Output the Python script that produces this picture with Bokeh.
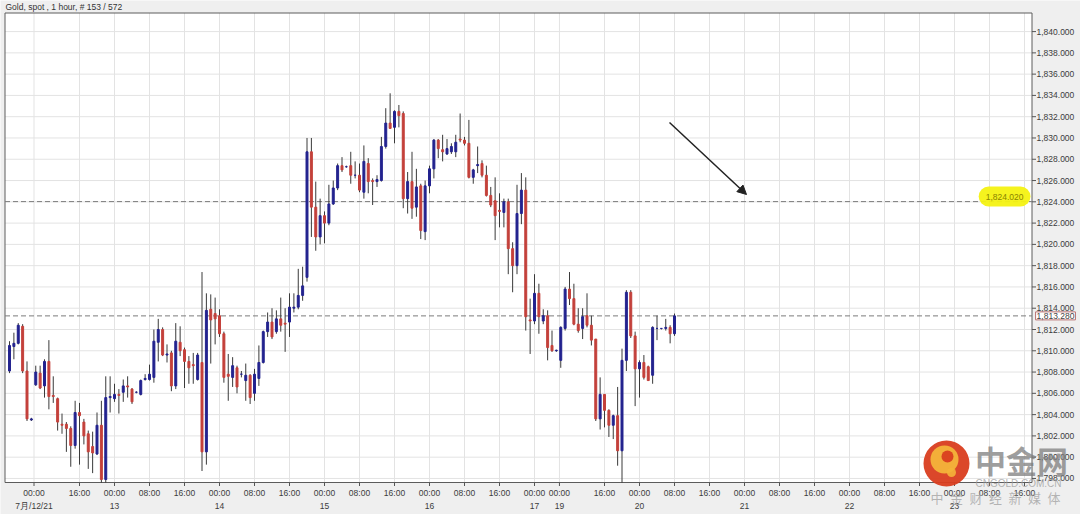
from bokeh.plotting import figure
from bokeh.models import ColumnDataSource, Label, Arrow, NormalHead, Range1d
from bokeh.embed import file_html
from bokeh.resources import INLINE
from bokeh.core.properties import value

# ---------------- data ----------------
OPEN = [1808.1, 1810.4, 1810.7, 1812.3, 1808.1, 1803.5, 1806.8, 1807.9, 1806.7, 1809.0,
        1805.8, 1805.5, 1803.1, 1803.1, 1802.7, 1801.1, 1804.2, 1803.3, 1802.2, 1801.0,
        1800.3, 1803.0, 1797.9, 1805.6, 1805.5, 1805.9, 1806.1, 1806.7, 1806.4, 1806.1,
        1805.9, 1807.3, 1807.3, 1807.5, 1810.8, 1812.0, 1809.6, 1809.8, 1806.7, 1810.8,
        1810.1, 1809.0, 1808.7, 1807.3, 1808.9, 1800.5, 1813.9, 1813.5, 1813.3, 1811.6,
        1807.8, 1807.5, 1808.4, 1807.8, 1807.2, 1807.7, 1806.0, 1807.4, 1808.9, 1811.8,
        1812.7, 1811.8, 1813.0, 1812.6, 1812.7, 1814.0, 1814.1, 1815.2, 1816.9, 1828.7,
        1823.5, 1820.7, 1822.7, 1822.0, 1823.8, 1825.3, 1827.4, 1827.3, 1827.4, 1826.5,
        1826.5, 1824.9, 1827.6, 1826.0, 1825.9, 1826.0, 1829.2, 1831.4, 1831.0, 1832.5,
        1832.3, 1824.3, 1825.9, 1823.5, 1825.5, 1821.2, 1825.5, 1827.1, 1829.8, 1828.9,
        1828.5, 1828.7, 1828.7, 1829.9, 1829.8, 1829.5, 1826.3, 1827.4, 1827.6, 1826.5,
        1824.6, 1824.1, 1823.2, 1823.0, 1824.0, 1819.6, 1818.0, 1822.9, 1825.1, 1812.9,
        1812.8, 1815.4, 1812.8, 1813.3, 1810.5, 1810.0, 1809.1, 1812.1, 1815.8, 1814.9,
        1812.5, 1812.1, 1813.3, 1812.4, 1811.1, 1803.6, 1805.9, 1804.4, 1803.0, 1803.9,
        1800.6, 1809.1, 1815.5, 1811.4, 1808.3, 1808.9, 1808.5, 1807.7, 1812.1, 1812.1,
        1812.1, 1812.2, 1811.6]
HIGH = [1810.9, 1811.7, 1812.6, 1812.5, 1809.0, 1803.7, 1808.6, 1808.6, 1809.2, 1811.0,
        1807.6, 1805.6, 1804.1, 1803.3, 1802.9, 1805.3, 1805.1, 1803.6, 1802.5, 1802.4,
        1804.2, 1805.3, 1807.6, 1807.6, 1806.9, 1806.4, 1807.3, 1807.6, 1806.5, 1806.2,
        1807.3, 1807.8, 1808.7, 1812.0, 1813.0, 1812.2, 1810.6, 1810.0, 1812.6, 1812.3,
        1810.3, 1809.5, 1809.8, 1809.8, 1817.4, 1815.4, 1815.3, 1815.0, 1813.9, 1811.8,
        1809.7, 1809.4, 1808.6, 1808.1, 1808.8, 1807.8, 1808.3, 1810.5, 1811.9, 1813.6,
        1814.0, 1813.8, 1815.0, 1814.0, 1815.4, 1815.4, 1817.7, 1817.9, 1830.0, 1830.0,
        1825.9, 1824.3, 1823.1, 1825.6, 1826.0, 1827.6, 1828.2, 1827.4, 1828.7, 1827.8,
        1827.6, 1829.3, 1828.1, 1826.2, 1826.5, 1830.1, 1832.8, 1834.2, 1832.6, 1833.1,
        1832.5, 1826.8, 1828.7, 1827.1, 1825.7, 1826.0, 1827.4, 1829.9, 1829.9, 1830.3,
        1829.9, 1829.5, 1830.3, 1832.3, 1830.1, 1831.7, 1827.1, 1829.2, 1827.9, 1827.4,
        1825.4, 1826.3, 1824.8, 1824.3, 1824.3, 1820.2, 1825.6, 1826.7, 1826.3, 1814.9,
        1817.2, 1816.3, 1813.9, 1813.8, 1811.9, 1810.1, 1812.3, 1816.0, 1817.4, 1816.3,
        1814.0, 1814.0, 1815.4, 1813.3, 1811.1, 1807.5, 1805.9, 1804.5, 1804.0, 1806.6,
        1810.2, 1815.7, 1815.7, 1811.8, 1809.1, 1809.6, 1808.6, 1812.3, 1813.3, 1812.1,
        1813.0, 1812.4, 1813.5]
LOW = [1807.9, 1809.2, 1810.6, 1807.9, 1803.4, 1803.4, 1806.7, 1806.4, 1805.6, 1804.5,
       1805.1, 1802.5, 1802.2, 1800.5, 1799.1, 1800.8, 1799.3, 1801.2, 1798.9, 1798.5,
       1800.2, 1797.6, 1797.6, 1804.2, 1805.2, 1804.1, 1805.2, 1805.6, 1805.0, 1806.0,
       1805.8, 1807.2, 1807.2, 1807.0, 1809.0, 1809.5, 1808.9, 1806.2, 1806.4, 1809.5,
       1806.5, 1806.9, 1806.9, 1807.2, 1798.7, 1799.3, 1808.8, 1810.6, 1811.3, 1807.0,
       1805.3, 1806.6, 1806.0, 1807.5, 1805.3, 1805.0, 1805.3, 1806.7, 1808.8, 1811.3,
       1811.1, 1811.6, 1811.8, 1809.9, 1811.3, 1813.6, 1813.9, 1814.7, 1816.5, 1820.7,
       1819.4, 1820.0, 1820.1, 1821.8, 1823.7, 1825.1, 1826.8, 1827.2, 1825.7, 1826.2,
       1824.9, 1824.3, 1824.8, 1823.7, 1825.4, 1825.9, 1829.0, 1830.9, 1829.5, 1831.0,
       1823.4, 1822.9, 1822.4, 1822.6, 1820.5, 1820.4, 1824.8, 1826.2, 1828.1, 1827.8,
       1828.4, 1828.5, 1828.2, 1829.6, 1829.3, 1826.2, 1825.7, 1826.7, 1826.3, 1824.5,
       1823.5, 1820.4, 1821.6, 1821.6, 1817.2, 1815.5, 1817.2, 1821.9, 1811.9, 1809.7,
       1812.5, 1811.6, 1812.5, 1809.1, 1809.9, 1809.9, 1808.4, 1811.9, 1814.3, 1812.4,
       1811.7, 1811.1, 1812.2, 1810.5, 1803.4, 1802.6, 1802.8, 1801.9, 1801.7, 1799.2,
       1797.6, 1808.1, 1811.2, 1804.8, 1805.6, 1807.3, 1807.2, 1806.9, 1811.0, 1812.0,
       1811.9, 1810.7, 1811.4]
CLOSE = [1810.5, 1810.7, 1812.4, 1808.1, 1803.6, 1803.6, 1808.0, 1806.5, 1809.0, 1805.7,
         1805.7, 1803.3, 1803.0, 1802.7, 1801.1, 1804.2, 1803.9, 1802.0, 1800.5, 1800.4,
         1803.0, 1797.9, 1805.6, 1805.7, 1805.9, 1805.8, 1806.7, 1806.6, 1805.2, 1806.1,
         1807.2, 1807.4, 1807.8, 1810.9, 1812.0, 1809.6, 1809.7, 1806.7, 1810.9, 1810.0,
         1809.0, 1808.4, 1808.6, 1809.6, 1800.5, 1813.8, 1812.9, 1813.0, 1811.6, 1807.5,
         1807.6, 1808.6, 1806.6, 1807.8, 1807.7, 1805.6, 1807.8, 1808.9, 1811.8, 1812.7,
         1811.3, 1813.0, 1812.4, 1812.5, 1814.1, 1814.1, 1815.2, 1816.1, 1828.7, 1823.5,
         1820.7, 1822.7, 1822.0, 1823.8, 1825.3, 1827.4, 1827.0, 1827.3, 1826.5, 1826.5,
         1825.1, 1827.8, 1825.9, 1825.9, 1826.1, 1829.2, 1831.4, 1830.9, 1832.5, 1832.1,
         1824.3, 1825.9, 1823.4, 1825.4, 1821.3, 1825.5, 1827.1, 1829.8, 1829.0, 1828.7,
         1829.0, 1829.2, 1829.6, 1829.8, 1829.5, 1826.3, 1827.0, 1827.5, 1826.5, 1824.6,
         1823.7, 1822.7, 1823.1, 1824.0, 1819.6, 1818.0, 1822.9, 1825.1, 1813.2, 1812.8,
         1815.4, 1813.2, 1813.3, 1810.3, 1810.0, 1810.05, 1812.2, 1815.8, 1814.9, 1812.5,
         1811.9, 1813.2, 1812.4, 1811.0, 1803.6, 1805.9, 1804.4, 1803.0, 1803.9, 1800.6,
         1809.1, 1815.5, 1811.4, 1808.3, 1808.9, 1807.5, 1807.2, 1812.2, 1812.1, 1812.1,
         1812.2, 1811.6, 1813.28]

# time-axis ticks (bar index) and their two-line labels
TICK_POS = [5.6, 16, 24, 32, 40, 48, 56, 64, 72, 80, 88, 96, 104, 112, 120, 125.7,
            136, 144, 152, 160, 168, 176, 184, 192, 200, 208, 216, 224, 232]
TICK_TIMES = ["00:00", "16:00", "00:00", "08:00", "16:00", "00:00", "08:00", "16:00",
              "00:00", "08:00", "16:00", "00:00", "08:00", "16:00", "00:00", "00:00",
              "16:00", "00:00", "08:00", "16:00", "00:00", "08:00", "16:00", "00:00",
              "08:00", "16:00", "00:00", "08:00", "16:00"]
TICK_DATES = ["7月/12/21", "", "13", "", "", "14", "", "", "15", "", "", "16", "", "",
              "17", "19", "", "20", "", "", "21", "", "", "22", "", "", "23", "", ""]
PRICE_TICKS = [1798, 1800, 1802, 1804, 1806, 1808, 1810, 1812, 1814, 1816, 1818,
               1820, 1822, 1824, 1826, 1828, 1830, 1832, 1834, 1836, 1838, 1840]

TITLE = "Gold, spot , 1 hour, # 153 / 572"
LEVEL_HIGH = 1824.02
LEVEL_LAST = 1813.28
LEVEL_HIGH_TEXT = "1,824.020"
LEVEL_LAST_TEXT = "1,813.280"
WM_BIG = "中金网"
WM_URL = "CNGOLD.COM.CN"
WM_SUB = "\u2002".join("中金财经新媒体")

# ---------------- layout helpers (pixel -> data) ----------------
def X(px):
    return (px - 9) / 4.375

def Y(py):
    return 1812 + (329 - py) / 10.64

PL, PR, PT, PB = 4.5, 1031.5, 12.5, 482.0     # plot-area edges in pixels

UP = "#23238f"
DOWN = "#c4413b"
WICK = "#3a3a3a"
FONT = "Liberation Sans"
TXT = "#3c3c3c"
GRID = "#e3e3e3"

p = figure(width=1080, height=514,
           x_range=Range1d(X(0), X(1080)), y_range=Range1d(Y(514), Y(0)),
           x_axis_location=None, y_axis_location=None,
           output_backend="svg", toolbar_location=None,
           min_border=0, outline_line_color=None,
           background_fill_color="#efefef", border_fill_color="#efefef")
p.grid.visible = False

# plot area
p.quad(left=[X(PL)], right=[X(PR)], bottom=[Y(PB)], top=[Y(PT)],
       fill_color="white", line_color=None)

# grid lines
p.segment(x0=TICK_POS, x1=TICK_POS, y0=[Y(PB)] * len(TICK_POS), y1=[Y(PT)] * len(TICK_POS),
          line_color=GRID, line_width=1)
p.segment(x0=[X(PL)] * len(PRICE_TICKS), x1=[X(PR)] * len(PRICE_TICKS),
          y0=PRICE_TICKS, y1=PRICE_TICKS, line_color=GRID, line_width=1)

# frame
p.quad(left=[X(PL)], right=[X(PR)], bottom=[Y(PB)], top=[Y(PT)],
       fill_color=None, line_color="#5c5c5c", line_width=1)

# reference levels
for lv in (LEVEL_HIGH, LEVEL_LAST):
    p.segment(x0=[X(PL)], x1=[X(PR)], y0=[lv], y1=[lv], line_color="#7c7c7c",
              line_dash="5 3", line_width=1)

# candles
idx = list(range(len(OPEN)))
src = ColumnDataSource(dict(
    x=idx, h=HIGH, l=LOW,
    top=[max(o, c) for o, c in zip(OPEN, CLOSE)],
    bot=[min(o, c) for o, c in zip(OPEN, CLOSE)],
    col=[UP if c >= o else DOWN for o, c in zip(OPEN, CLOSE)]))
p.segment(x0="x", y0="l", x1="x", y1="h", source=src, line_color=WICK, line_width=1)
p.vbar(x="x", top="top", bottom="bot", width=0.45, source=src,
       fill_color="col", line_color="col", line_width=1)

# right price axis
n = len(PRICE_TICKS)
p.segment(x0=[X(PR)] * n, x1=[X(PR + 4)] * n, y0=PRICE_TICKS, y1=PRICE_TICKS,
          line_color="#555555", line_width=1)
p.text(x=[X(1036)] * n, y=PRICE_TICKS, text=[f"{v:,.3f}" for v in PRICE_TICKS],
       text_font=value(FONT), text_font_size="8.5px", text_color=TXT,
       text_align="left", text_baseline="middle")

# bottom time axis
m = len(TICK_POS)
p.segment(x0=TICK_POS, x1=TICK_POS, y0=[Y(PB)] * m, y1=[Y(PB + 3.5)] * m,
          line_color="#555555", line_width=1)
p.text(x=TICK_POS, y=[Y(492)] * m, text=TICK_TIMES, text_font=value(FONT),
       text_font_size="8.5px", text_color=TXT, text_align="center", text_baseline="middle")
p.text(x=TICK_POS, y=[Y(505)] * m, text=TICK_DATES, text_font=value(FONT),
       text_font_size="8.5px", text_color=TXT, text_align="center", text_baseline="middle")

# title
p.text(x=[X(5)], y=[Y(6.5)], text=[TITLE], text_font=value(FONT), text_font_size="8.5px",
       text_color="#333333", text_align="left", text_baseline="middle")

# watermark logo
p.scatter(x=[X(946)], y=[Y(463)], size=46, fill_color="#d93d1f", line_color=None, alpha=0.95)
p.scatter(x=[X(944)], y=[Y(459)], size=28, fill_color="#f4b43a", line_color=None, alpha=0.95)
p.scatter(x=[X(947)], y=[Y(456)], size=12, fill_color="#d93d1f", line_color=None, alpha=0.95)
p.scatter(x=[X(951)], y=[Y(472)], size=9, fill_color="#f4b43a", line_color=None, alpha=0.9)

# annotations
p.add_layout(Label(x=X(1030), y=Y(196), text=LEVEL_HIGH_TEXT,
                   text_font=FONT, text_font_size="8.5px", text_color="#8a8400",
                   text_align="right", text_baseline="middle",
                   background_fill_color="#f4f212", background_fill_alpha=0.95,
                   padding=7, border_radius=10))
p.add_layout(Label(x=X(1055), y=LEVEL_LAST, text=LEVEL_LAST_TEXT, text_font=FONT,
                   text_font_size="8.5px", text_color="#444444", text_align="center",
                   text_baseline="middle", background_fill_color="white",
                   border_line_color="#b87070", padding=1))
p.add_layout(Arrow(end=NormalHead(size=9, fill_color="#222222", line_color="#222222"),
                   x_start=X(669), y_start=Y(122), x_end=X(746), y_end=Y(194),
                   line_color="#222222", line_width=1.5))

p.add_layout(Label(x=X(1021), y=Y(459), text=WM_BIG, text_font="Noto Sans CJK SC",
                   text_font_size="31px", text_font_style="bold", text_color="#7e7e7e",
                   text_alpha=0.75, text_align="center", text_baseline="middle"))
p.add_layout(Label(x=X(1018), y=Y(483), text=WM_URL, text_font=FONT,
                   text_font_size="10px", text_color="#a0a0a0", text_alpha=0.8,
                   text_align="center", text_baseline="middle"))
p.add_layout(Label(x=X(995), y=Y(497), text=WM_SUB,
                   text_font="Noto Sans CJK SC", text_font_size="13px",
                   text_color="#a0a0a0", text_alpha=0.75, text_align="center",
                   text_baseline="middle"))

open("out.html", "w").write(file_html(p, INLINE))
